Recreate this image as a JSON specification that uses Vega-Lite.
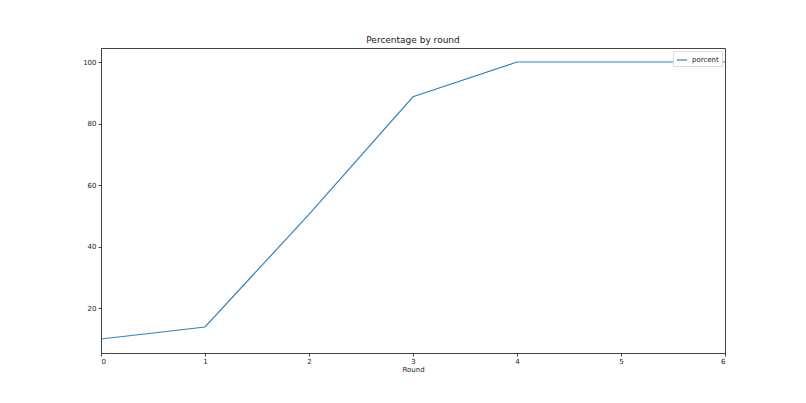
{
  "$schema": "https://vega.github.io/schema/vega-lite/v6.json",
  "autosize": "none",
  "width": 624,
  "height": 305,
  "padding": {"left": 101, "top": 48, "right": 81, "bottom": 50},
  "background": "white",
  "title": {
    "text": "Percentage by round",
    "font": "DejaVu Sans",
    "fontSize": 9,
    "fontWeight": "normal",
    "color": "#222",
    "anchor": "middle",
    "offset": 3
  },
  "data": {
    "values": [
      {"round": 0, "percent": 10, "series": "porcent"},
      {"round": 1, "percent": 13.9, "series": "porcent"},
      {"round": 2, "percent": 50.5, "series": "porcent"},
      {"round": 3, "percent": 88.7, "series": "porcent"},
      {"round": 4, "percent": 100, "series": "porcent"},
      {"round": 5, "percent": 100, "series": "porcent"},
      {"round": 6, "percent": 100, "series": "porcent"}
    ]
  },
  "mark": {"type": "line", "strokeWidth": 1.2},
  "encoding": {
    "x": {
      "field": "round",
      "type": "quantitative",
      "title": "Round",
      "scale": {"domain": [0, 6], "nice": false, "zero": false},
      "axis": {"values": [0, 1, 2, 3, 4, 5, 6], "grid": false, "labelPadding": 1, "titlePadding": 1}
    },
    "y": {
      "field": "percent",
      "type": "quantitative",
      "title": null,
      "scale": {"domain": [5.45, 104.55], "nice": false, "zero": false},
      "axis": {"values": [20, 40, 60, 80, 100], "grid": false}
    },
    "color": {
      "field": "series",
      "type": "nominal",
      "scale": {"range": ["#3582bd"]},
      "legend": {
        "title": null,
        "orient": "top-right",
        "offset": 3,
        "padding": 3,
        "strokeColor": "#ddd",
        "fillColor": "white",
        "symbolType": "stroke",
        "symbolSize": 100,
        "symbolStrokeWidth": 1.2,
        "labelFont": "DejaVu Sans",
        "labelFontSize": 7,
        "labelColor": "#222"
      }
    }
  },
  "config": {
    "view": {"stroke": "#444", "strokeWidth": 1},
    "axis": {
      "domainColor": "#444",
      "tickColor": "#444",
      "tickSize": 3,
      "labelFont": "DejaVu Sans",
      "labelFontSize": 7,
      "labelColor": "#222",
      "labelPadding": 2,
      "titleFont": "DejaVu Sans",
      "titleFontSize": 7,
      "titleFontWeight": "normal",
      "titleColor": "#222",
      "titlePadding": 3
    }
  }
}
